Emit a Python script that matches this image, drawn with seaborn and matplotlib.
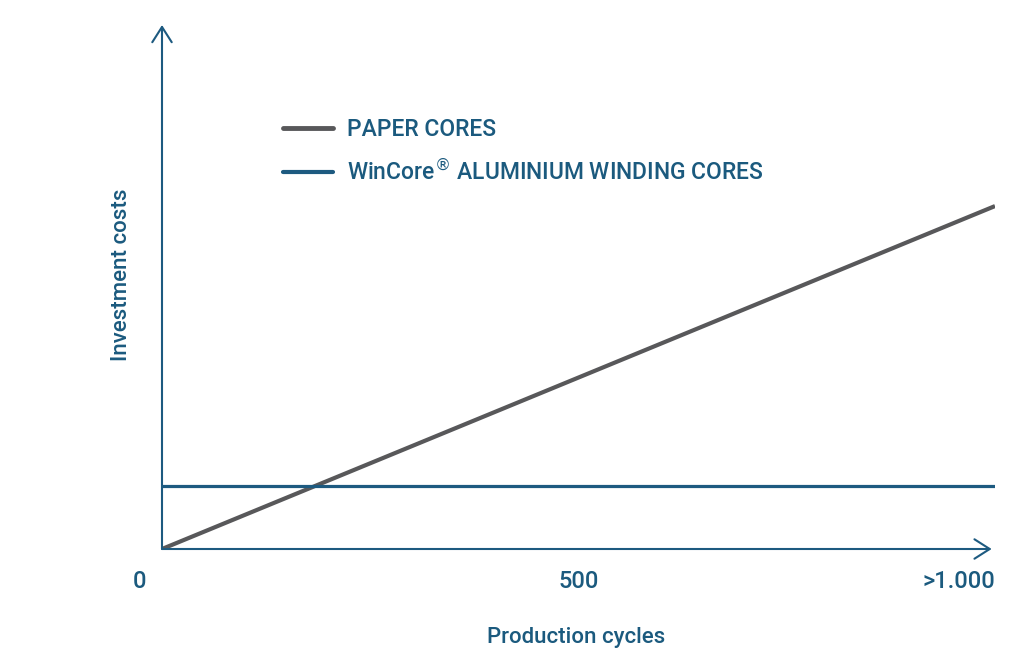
import matplotlib
matplotlib.use("Agg")
import matplotlib.pyplot as plt
import matplotlib.transforms as mtransforms
import seaborn as sns
import pandas as pd

# values (cost in arbitrary units, paper = 100 at 1000 cycles)
cycles = [0, 1000]
paper_cost = [0, 100]
wincore_cost = [18.5, 18.5]
series_names = ["PAPER CORES", "WinCore$^{\u00ae}$ ALUMINIUM WINDING CORES"]
tick_pos = [0, 500, 1000]
tick_text = ["0", "500", ">1.000"]

BLUE = "#1d5a80"
TEXT = "#1b5a7e"
GREY = "#58585a"

df = pd.DataFrame({
    "cycles": cycles * 2,
    "cost": paper_cost + wincore_cost,
    "series": [series_names[0]] * 2 + [series_names[1]] * 2,
})

sns.set_style("white")
plt.rcParams["font.family"] = ["Roboto", "DejaVu Sans"]
plt.rcParams["font.weight"] = "medium"
plt.rcParams["axes.labelweight"] = "medium"

fig = plt.figure(figsize=(10.24, 6.55), dpi=100)
ax = fig.add_axes([162 / 1024, 106 / 655, 833 / 1024, 524 / 655])

sns.lineplot(data=df, x="cycles", y="cost", hue="series",
             palette=[GREY, BLUE], ax=ax, legend=True)
for ln, lw in zip(ax.lines[:2], [3.0, 2.3]):
    ln.set_linewidth(lw)
    ln.set_solid_capstyle("butt")

ax.set_xlim(0, 1000)
ax.set_ylim(0, 152.8)
for s in ax.spines.values():
    s.set_visible(False)

# axes as arrows
arrow = dict(arrowstyle="->,head_length=0.55,head_width=0.35", color=BLUE,
             lw=1.5, mutation_scale=20, shrinkA=0, shrinkB=0)
ax.annotate("", xy=(0.996, 0), xytext=(0, 0), xycoords="axes fraction",
            arrowprops=arrow, annotation_clip=False)
ax.annotate("", xy=(0, 1.0), xytext=(0, 0), xycoords="axes fraction",
            arrowprops=arrow, annotation_clip=False)

ax.set_yticks([])
ax.set_xticks(tick_pos, tick_text)
ax.tick_params(axis="x", length=0, pad=15, labelsize=17, labelcolor=TEXT)
labels = ax.get_xticklabels()
labels[0].set_transform(labels[0].get_transform() +
                        mtransforms.ScaledTranslation(-0.22, 0, fig.dpi_scale_trans))
labels[2].set_horizontalalignment("right")

ax.set_xlabel("Production cycles", fontsize=16, color=TEXT)
ax.set_ylabel("Investment costs", fontsize=16, color=TEXT)
ax.xaxis.set_label_coords(0.497, -0.148)
ax.yaxis.set_label_coords(-0.036, 0.523)

leg = ax.legend(loc="upper left", bbox_to_anchor=(262 / 1024, 1 - 97 / 655),
                bbox_transform=fig.transFigure, frameon=False, fontsize=16.5,
                handlelength=2.2, handletextpad=0.6, labelspacing=0.85,
                labelcolor=TEXT)
for h, lw in zip(leg.get_lines(), [3.5, 3.0]):
    h.set_linewidth(lw)

fig.savefig("out.png", dpi=100)
plt.close(fig)
